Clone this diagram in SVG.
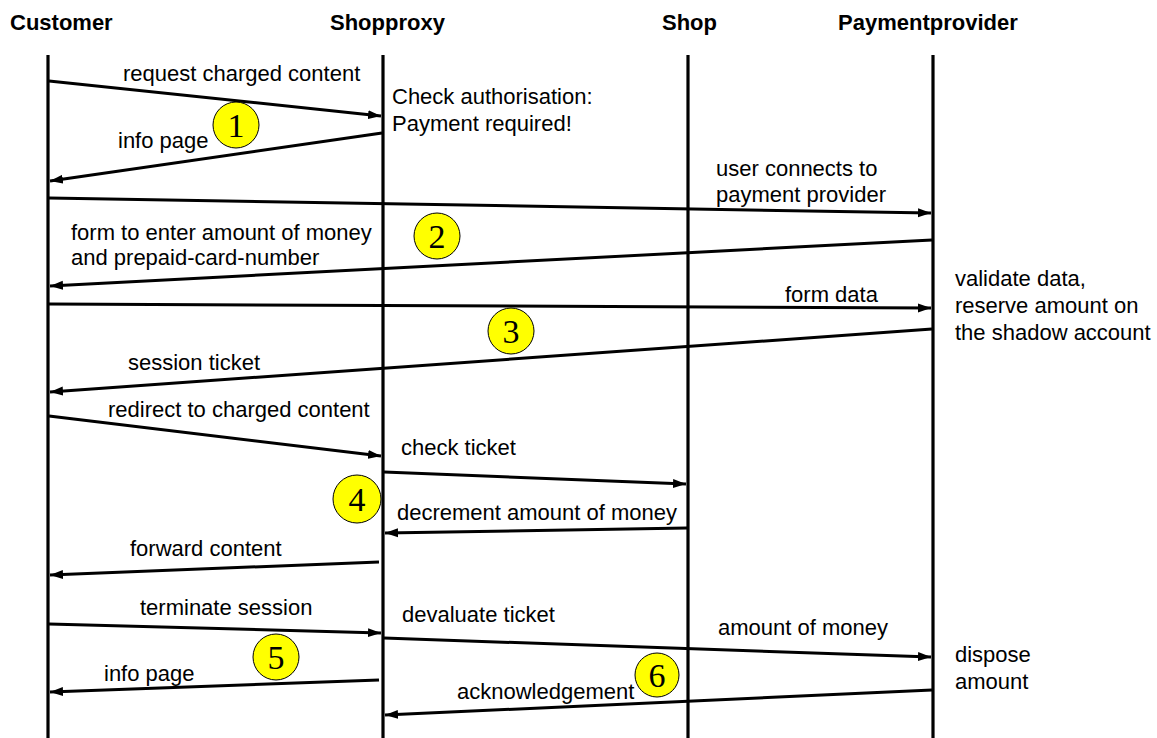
<svg xmlns="http://www.w3.org/2000/svg" width="1157" height="738" viewBox="0 0 1157 738">
<style>
.hdr{font-family:"Liberation Sans",Arial,sans-serif;font-size:22px;font-weight:bold;fill:#000}
.lbl{font-family:"Liberation Sans",Arial,sans-serif;font-size:22px;fill:#000}
.life{stroke:#000;stroke-width:3.2;fill:none}
.msg{stroke:#000;stroke-width:3;fill:none;marker-end:url(#ah)}
.badge circle{fill:#ffff00;stroke:#000;stroke-width:1}
.badge text{font-family:"Liberation Serif","Times New Roman",serif;font-size:34px;text-anchor:middle;fill:#000}
</style>
<defs>
<marker id="ah" markerUnits="userSpaceOnUse" markerWidth="14" markerHeight="10" refX="13" refY="5" orient="auto">
<path d="M0,0.5 L13,5 L0,9.5 z" fill="#000"/>
</marker>
</defs>
<rect width="1157" height="738" fill="#fff"/>
<g id="customer">
<text class="hdr" x="10" y="30">Customer</text>
<line class="life" x1="48" y1="55" x2="48" y2="738"/>
</g>
<g id="shopproxy">
<text class="hdr" x="330" y="30">Shopproxy</text>
<line class="life" x1="383" y1="55" x2="383" y2="738"/>
<text class="lbl" x="392" y="104">Check authorisation:</text>
<text class="lbl" x="392" y="131">Payment required!</text>
</g>
<g id="shop">
<text class="hdr" x="662" y="30">Shop</text>
<line class="life" x1="688" y1="55" x2="688" y2="738"/>
</g>
<g id="paymentprovider">
<text class="hdr" x="838" y="30">Paymentprovider</text>
<line class="life" x1="933" y1="55" x2="933" y2="738"/>
<text class="lbl" x="955" y="286">validate data,</text>
<text class="lbl" x="955" y="313">reserve amount on</text>
<text class="lbl" x="955" y="340">the shadow account</text>
<text class="lbl" x="955" y="662">dispose</text>
<text class="lbl" x="955" y="689">amount</text>
</g>
<g id="connectors">
<line class="msg" x1="49" y1="81" x2="381" y2="116"/>
<line class="msg" x1="382" y1="133" x2="50" y2="181"/>
<line class="msg" x1="49" y1="198" x2="931" y2="213"/>
<line class="msg" x1="932" y1="240" x2="50" y2="286"/>
<line class="msg" x1="49" y1="304" x2="931" y2="308"/>
<line class="msg" x1="932" y1="329" x2="50" y2="392"/>
<line class="msg" x1="49" y1="416" x2="381" y2="456"/>
<line class="msg" x1="384" y1="472" x2="686" y2="484"/>
<line class="msg" x1="687" y1="528" x2="385" y2="533"/>
<line class="msg" x1="379" y1="562" x2="50" y2="575"/>
<line class="msg" x1="49" y1="624" x2="381" y2="633"/>
<line class="msg" x1="384" y1="638" x2="931" y2="657"/>
<line class="msg" x1="379" y1="680" x2="50" y2="692"/>
<line class="msg" x1="932" y1="690" x2="385" y2="715"/>
<text class="lbl" x="123" y="81">request charged content</text>
<text class="lbl" x="118" y="148">info page</text>
<text class="lbl" x="716" y="176">user connects to</text>
<text class="lbl" x="716" y="202">payment provider</text>
<text class="lbl" x="71" y="240">form to enter amount of money</text>
<text class="lbl" x="71" y="265">and prepaid-card-number</text>
<text class="lbl" x="785" y="302">form data</text>
<text class="lbl" x="128" y="370">session ticket</text>
<text class="lbl" x="108" y="417">redirect to charged content</text>
<text class="lbl" x="401" y="455">check ticket</text>
<text class="lbl" x="397" y="520">decrement amount of money</text>
<text class="lbl" x="130" y="556">forward content</text>
<text class="lbl" x="140" y="615">terminate session</text>
<text class="lbl" x="402" y="622">devaluate ticket</text>
<text class="lbl" x="718" y="635">amount of money</text>
<text class="lbl" x="104" y="681">info page</text>
<text class="lbl" x="457" y="699">acknowledgement</text>
</g>
<g id="step1" class="badge"><circle cx="236" cy="125" r="23"/><text x="236" y="137">1</text></g>
<g id="step2" class="badge"><circle cx="437" cy="236" r="23"/><text x="437" y="248">2</text></g>
<g id="step3" class="badge"><circle cx="511" cy="331" r="23"/><text x="511" y="343">3</text></g>
<g id="step4" class="badge"><circle cx="357" cy="499" r="24"/><text x="357" y="511">4</text></g>
<g id="step5" class="badge"><circle cx="276" cy="657" r="23"/><text x="276" y="669">5</text></g>
<g id="step6" class="badge"><circle cx="657" cy="675" r="22"/><text x="657" y="687">6</text></g>
</svg>
